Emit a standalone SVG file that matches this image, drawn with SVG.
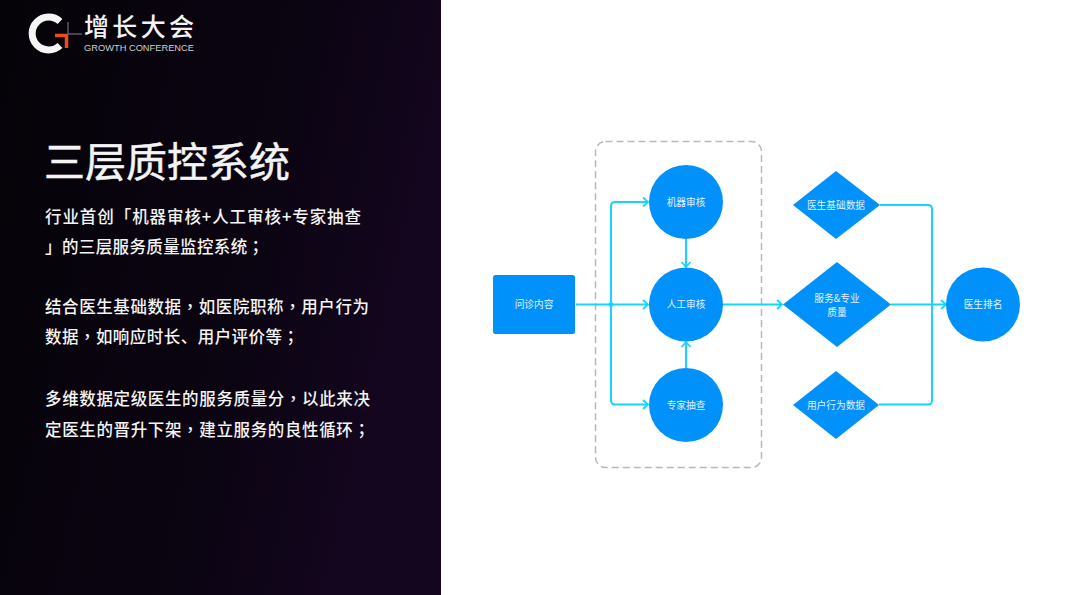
<svg xmlns="http://www.w3.org/2000/svg" width="1080" height="595" viewBox="0 0 1080 595">
<defs>
<linearGradient id="bg" x1="0" y1="0" x2="1" y2="0.3"><stop offset="0" stop-color="#050308"/><stop offset="0.65" stop-color="#0b0412"/><stop offset="1" stop-color="#14061f"/></linearGradient>
<marker id="arr" markerUnits="userSpaceOnUse" markerWidth="10" markerHeight="12" refX="8" refY="6" orient="auto"><path d="M3,1.500 L8,6 L3,10.500" fill="none" stroke="#19d3ff" stroke-width="1.800"/></marker>
</defs>
<style>
.n{fill:#0091fb}
.l{fill:#e2f2ff;font:9.700px "Noto Sans CJK SC","Liberation Sans",sans-serif;text-anchor:middle}
.c{fill:none;stroke:#19d3ff;stroke-width:2}
.b{fill:#f4f4f4;font:500 16.500px "Noto Sans CJK SC",sans-serif}
.p{font-family:"Noto Sans CJK TC",sans-serif}
</style>
<rect width="1080" height="595" fill="#fff"/>
<rect id="panel" width="441" height="595" fill="url(#bg)"/>
<g id="logo">
<path d="M60,21.500 A16.500,16.500 0 1 0 60,45.500" fill="none" stroke="#f6f6f6" stroke-width="7"/>
<path d="M68,22 V34 M68,34 H82" stroke="#5a5a62" stroke-width="1.500" fill="none"/>
<path d="M55,35.500 H68 M66.500,35 V48" fill="none" stroke="#ef4b23" stroke-width="3.500"/>
<text x="84" y="35.500" font-family="'Noto Sans CJK SC',sans-serif" font-size="25" font-weight="500" fill="#f2f2f2" textLength="110">增长大会</text>
<text x="84" y="51" font-family="'Liberation Sans',sans-serif" font-size="9" fill="#cfcfcf" textLength="110" lengthAdjust="spacingAndGlyphs">GROWTH CONFERENCE</text>
</g>
<g id="copy">
<text x="44" y="177" font-family="'Noto Sans CJK SC',sans-serif" font-size="41" fill="#f4f4f4" stroke="#f4f4f4" stroke-width="0.500" textLength="246">三层质控系统</text>
<text class="b" x="45" y="223" textLength="316">行业首创「机器审核+人工审核+专家抽查</text>
<text class="b" x="45" y="253" textLength="219">」的三层服务质量监控系统<tspan class="p">；</tspan></text>
<text class="b" x="45" y="313" textLength="324">结合医生基础数据<tspan class="p">，</tspan>如医院职称<tspan class="p">，</tspan>用户行为</text>
<text class="b" x="45" y="343" textLength="254">数据<tspan class="p">，</tspan>如响应时长、用户评价等<tspan class="p">；</tspan></text>
<text class="b" x="45" y="405" textLength="325">多维数据定级医生的服务质量分<tspan class="p">，</tspan>以此来决</text>
<text class="b" x="45" y="436" textLength="325">定医生的晋升下架<tspan class="p">，</tspan>建立服务的良性循环<tspan class="p">；</tspan></text>
</g>
<g id="connectors">
<rect x="595.500" y="141.500" width="166" height="326" rx="10" fill="none" stroke="#b8b8b8" stroke-width="1.500" stroke-dasharray="7 4"/>
<path class="c" d="M576,304.500 H648" marker-end="url(#arr)"/>
<path class="c" d="M611,304 V206 Q611,202 615,202 H648" marker-end="url(#arr)"/>
<path class="c" d="M611,304 V400 Q611,404.500 615,404.500 H648" marker-end="url(#arr)"/>
<path class="c" d="M686,238 V267" marker-end="url(#arr)"/>
<path class="c" d="M686,368 V342" marker-end="url(#arr)"/>
<path class="c" d="M723,304.500 H782" marker-end="url(#arr)"/>
<path class="c" d="M880,205 H928 Q932,205 932,209 V400 Q932,404.500 928,404.500 H879"/>
<path class="c" d="M891,304.500 H946" marker-end="url(#arr)"/>
<circle cx="611" cy="304.500" r="2.500" fill="#19d3ff"/>
</g>
<g id="n1"><rect class="n" x="493" y="275" width="82" height="59" rx="2.500"/><text class="l" x="534" y="308">问诊内容</text></g>
<g id="n2"><circle class="n" cx="686" cy="202" r="37"/><text class="l" x="686" y="205.500">机器审核</text></g>
<g id="n3"><circle class="n" cx="686" cy="304.500" r="37"/><text class="l" x="686" y="308">人工审核</text></g>
<g id="n4"><circle class="n" cx="686" cy="405" r="37"/><text class="l" x="686" y="408.500">专家抽查</text></g>
<g id="n5"><polygon class="n" points="836,171 880,205 836,239 793,205"/><text class="l" x="836" y="209">医生基础数据</text></g>
<g id="n6"><polygon class="n" points="837,262 891,304.500 837,347 783,304.500"/><text class="l" x="837" y="302">服务&amp;专业</text><text class="l" x="837" y="316">质量</text></g>
<g id="n7"><polygon class="n" points="836,371 879,405 836,439 793,405"/><text class="l" x="836" y="408.500">用户行为数据</text></g>
<g id="n8"><circle class="n" cx="983" cy="304.500" r="37"/><text class="l" x="983" y="308">医生排名</text></g>
</svg>
